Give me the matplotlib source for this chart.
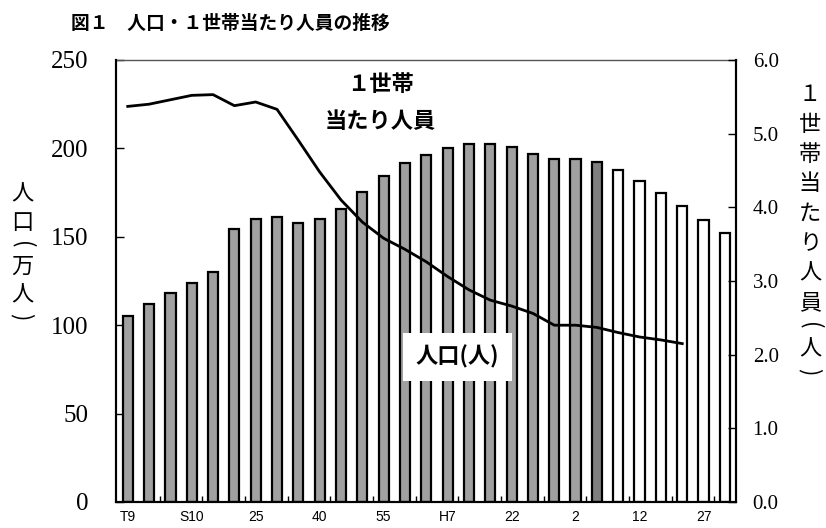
import matplotlib
matplotlib.use("Agg")
import matplotlib.pyplot as plt

plt.rcParams['font.family'] = ['Noto Sans CJK JP', 'DejaVu Sans']

# 調査年（ラベルは3本おき）
labels = ["T9", "", "", "S10", "", "", "25", "", "", "40", "", "", "55", "", "",
          "H7", "", "", "22", "", "", "2", "", "", "12", "", "", "27", ""]
# 人口（万人）
population = [105.2, 111.8, 118.4, 124.1, 129.9, 154.6, 160.1, 161.2, 157.8, 160.2,
              165.7, 175.3, 184.6, 191.9, 196.3, 200.4, 202.3, 202.3, 200.6, 197.0,
              193.8, 194.2, 192.3, 187.8, 181.4, 174.6, 167.4, 159.7, 152.3]
# 1世帯当たり人員（人）
household = [5.37, 5.40, 5.46, 5.52, 5.53, 5.38, 5.43, 5.33, 4.91, 4.48,
             4.10, 3.80, 3.58, 3.43, 3.26, 3.06, 2.88, 2.74, 2.66, 2.56,
             2.40, 2.40, 2.37, 2.30, 2.24, 2.20, 2.15]
last_census = 21      # 最後の国勢調査
estimate = 22         # 推計人口

x = list(range(len(population)))
colors = []
for i in x:
    if i <= last_census:
        colors.append('#a0a0a0')
    elif i == estimate:
        colors.append('#7f7f7f')
    else:
        colors.append('white')


def vertical_text(fig, xc, ytop, text, unit, fontsize):
    # 縦書き: 1文字ずつ置き、括弧は90度回す
    y = ytop
    for ch in text:
        h = 0.55 if ch in "()" else 1.0
        yc = y + h * unit / 2
        rot = -90 if ch in "()" else 0
        fig.text(xc / 826, 1 - yc / 528, ch, ha='center', va='center',
                 fontsize=fontsize, rotation=rot)
        y += h * unit


fig = plt.figure(figsize=(8.26, 5.28), dpi=100)
ax = fig.add_axes([116 / 826, 1 - 502 / 528, 620 / 826, 442 / 528])
ax.bar(x, population, width=0.48, color=colors, edgecolor='black', linewidth=1.6, zorder=2)
ax.set_xlim(-0.55, 28.52)
ax.set_ylim(0, 250)
ax.set_yticks([0, 50, 100, 150, 200, 250])
ax.set_yticklabels(["0", "50", "100", "150", "200", "250"], fontfamily='Liberation Serif', fontsize=18)
ax.tick_params(axis='y', direction='in', length=6, width=1, pad=20)

pos = [i for i in x if labels[i]]
ax.set_xticks(pos)
ax.set_xticklabels([labels[i] for i in pos], fontfamily='Liberation Sans', fontsize=10)
ax.tick_params(axis='x', which='major', length=0, pad=6)
ax.set_xticks([i + 0.5 for i in x[1:-1:2]], minor=True)
ax.tick_params(axis='x', which='minor', direction='in', length=4, width=1)

for s in ['left', 'bottom', 'right']:
    ax.spines[s].set_linewidth(1.5)
ax.spines['top'].set_linewidth(1.0)
ax.spines['top'].set_color('#555555')

ax2 = ax.twinx()
ax2.plot(x[:len(household)], household, color='black', linewidth=2.0, zorder=3)
ax2.set_ylim(0, 6)
ax2.set_yticks([0, 1, 2, 3, 4, 5, 6])
ax2.set_yticklabels([f"{v:.1f}" for v in range(7)], fontfamily='Liberation Serif', fontsize=15)
ax2.tick_params(axis='y', direction='in', length=6, width=1, pad=12)
for s in ['left', 'bottom', 'right']:
    ax2.spines[s].set_linewidth(1.5)
ax2.spines['top'].set_visible(False)

ax2.text(11.85, 5.67, "１世帯", ha='center', va='center', fontsize=16, fontweight='bold')
ax2.text(11.85, 5.17, "当たり人員", ha='center', va='center', fontsize=16, fontweight='bold')
ax2.text(15.47, 1.97, "人口(人)", ha='center', va='center', fontsize=16, fontweight='bold',
         bbox=dict(facecolor='white', edgecolor='none', pad=9), zorder=5)

fig.text(230 / 826, 1 - 23 / 528, "図１　人口・１世帯当たり人員の推移", ha='center', va='center',
         fontsize=13.5, fontweight='bold')
vertical_text(fig, 22, 180, "人口(万人)", 28.4, 16)
vertical_text(fig, 810, 80, "１世帯当たり人員(人)", 29.7, 16)

fig.savefig("out.png", dpi=100)
